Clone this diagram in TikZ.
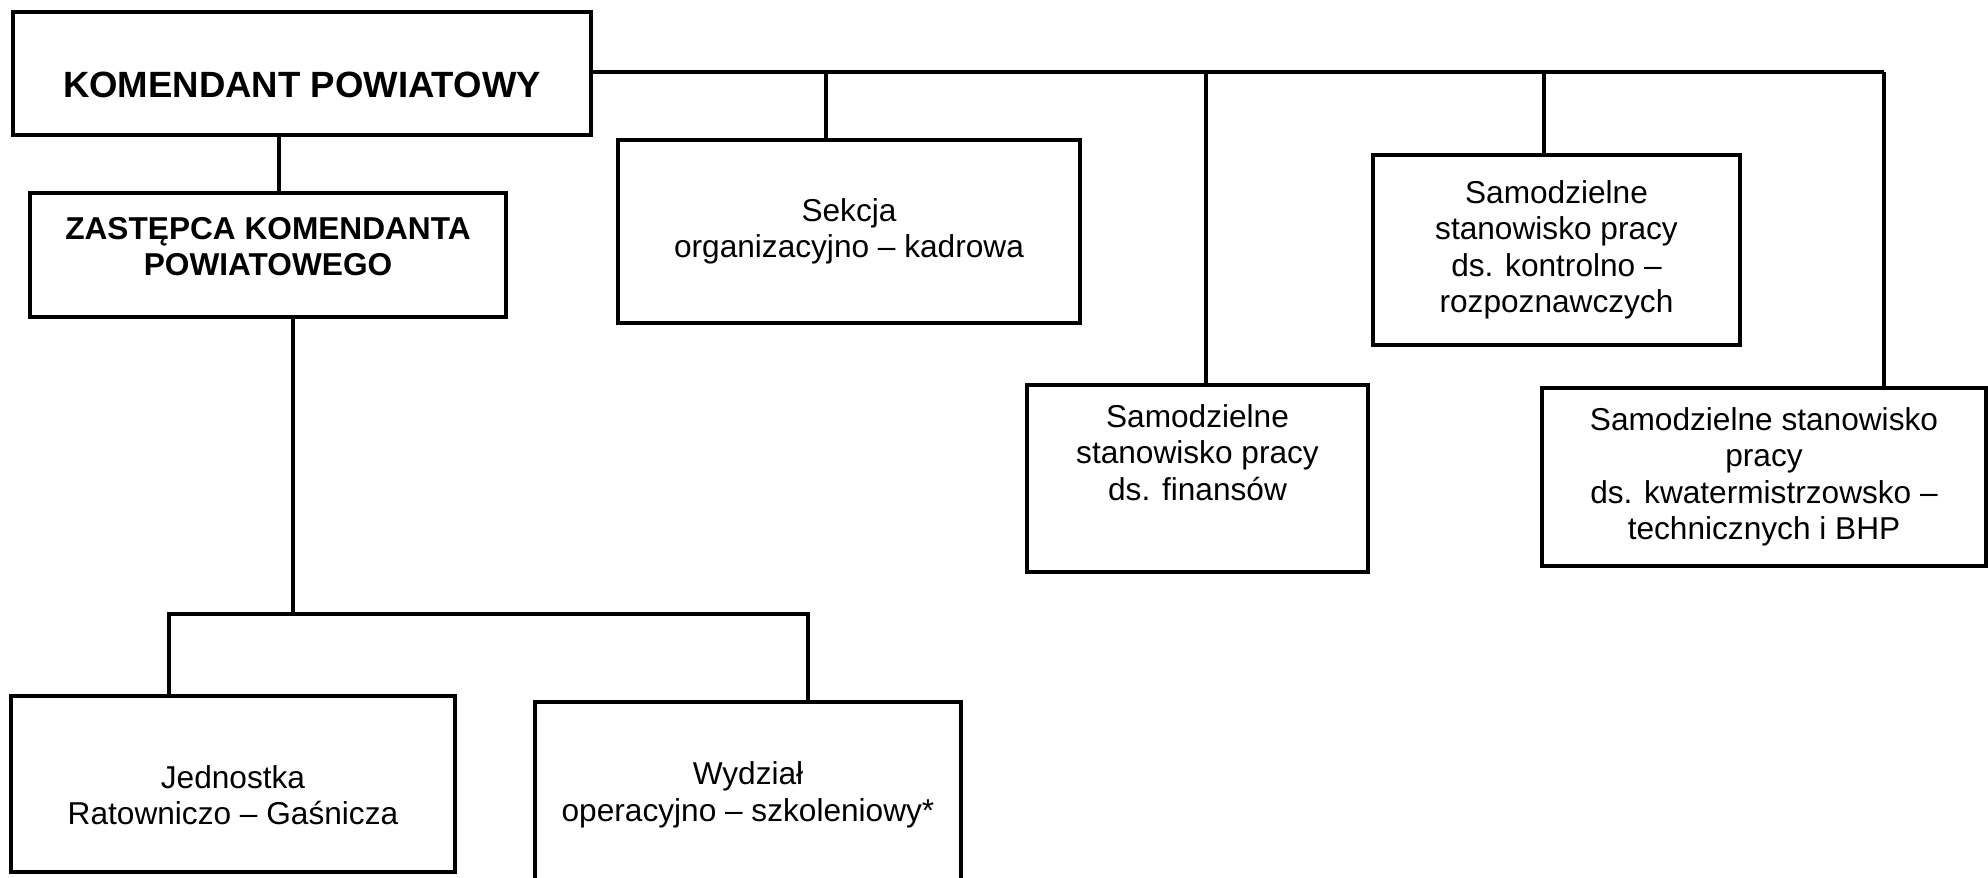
\documentclass[tikz,border=0pt]{standalone}
\usepackage{fontspec}
\setmainfont{Liberation Sans}
\usepackage{tikz}
\usetikzlibrary{positioning,calc}

% struts that shift the text inside a box
\newcommand{\pushdown}[1]{\rule{0pt}{#1}}
\newcommand{\pushup}[1]{\rule[-#1]{0pt}{#1}}

\tikzset{
  unit/.style={draw, line width=0.9pt, align=center, inner sep=0pt,
    font=\fontsize{9}{10.4}\selectfont},
  chief/.style={unit, font=\fontsize{10.4}{12}\selectfont\bfseries},
  deputy/.style={unit, font=\fontsize{9}{10.4}\selectfont\bfseries},
  link/.style={line width=0.9pt}
}

\begin{document}
\begin{tikzpicture}[x=1cm,y=1cm]
  \useasboundingbox (0,0) rectangle (19.88,8.78);
  % Command
  \node[chief, minimum width=5.78cm, minimum height=1.23cm] (kp) at (3.02,8.045) {\pushdown{13.6pt}KOMENDANT POWIATOWY};
  \node[deputy, minimum width=4.76cm, minimum height=1.24cm] (zkp) at (2.68,6.23) {ZASTĘPCA KOMENDANTA\\POWIATOWEGO\pushup{4.8pt}};
  % Units under the commander
  \node[unit, minimum width=4.62cm, minimum height=1.83cm] (sekcja) at (8.49,6.465) {Sekcja\\organizacyjno -- kadrowa};
  \node[unit, minimum width=3.67cm, minimum height=1.90cm] (kontrola) at (15.565,6.28) {Samodzielne\\stanowisko pracy\\ds. kontrolno --\\rozpoznawczych};
  \node[unit, minimum width=3.41cm, minimum height=1.87cm] (finanse) at (11.975,3.995) {Samodzielne\\stanowisko pracy\\ds. finansów\pushup{15pt}};
  \node[unit, minimum width=4.44cm, minimum height=1.78cm] (kwater) at (17.64,4.01) {Samodzielne stanowisko\\pracy\\ds. kwatermistrzowsko --\\technicznych i BHP};
  % Units under the deputy
  \node[unit, minimum width=4.44cm, minimum height=1.76cm] (jrg) at (2.33,0.94) {\pushdown{12.8pt}Jednostka\\Ratowniczo -- Gaśnicza};
  \node[unit, minimum width=4.26cm, minimum height=1.86cm] (wydzial) at (7.48,0.83) {Wydział\\operacyjno -- szkoleniowy*};
  % Top bus
  \coordinate (bs) at (8.26,8.06);
  \coordinate (bf) at (12.06,8.06);
  \coordinate (bk) at (15.44,8.06);
  \coordinate (bw) at (18.84,8.06);
  \draw[link] (kp.east |- bw) -- (bw);
  \draw[link] (bs) -- (bs |- sekcja.north);
  \draw[link] (bf) -- (bf |- finanse.north);
  \draw[link] (bk) -- (bk |- kontrola.north);
  \draw[link] (bw) -- (bw |- kwater.north);
  % Deputy line
  \coordinate (dz) at (2.79,7);
  \draw[link] (dz |- kp.south) -- (dz |- zkp.north);
  % Lower bus
  \coordinate (lz) at (2.93,2.64);
  \coordinate (lj) at (1.69,2.64);
  \coordinate (lw) at (8.08,2.64);
  \draw[link] (lz |- zkp.south) -- (lz);
  \draw[link] (lj |- jrg.north) -- (lj) -- (lw) -- (lw |- wydzial.north);
\end{tikzpicture}
\end{document}
